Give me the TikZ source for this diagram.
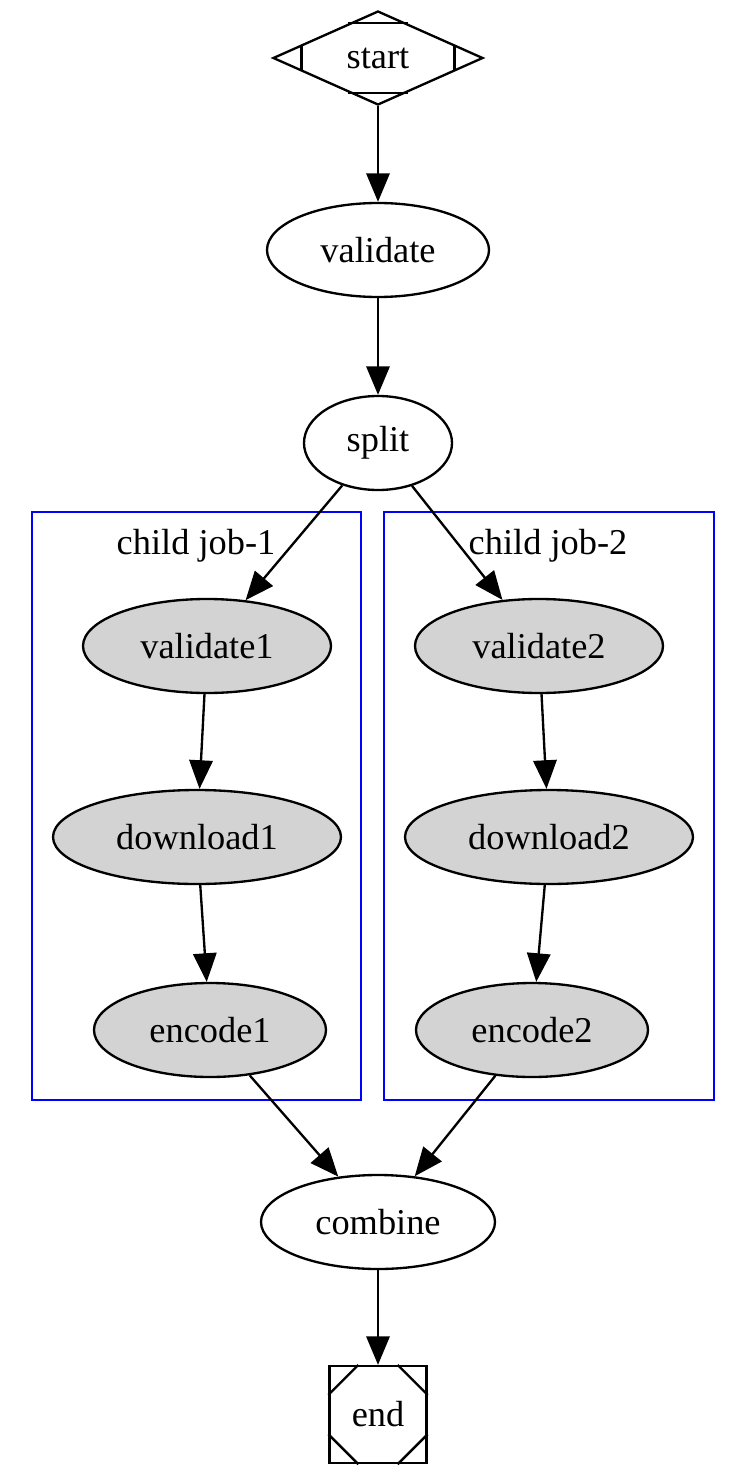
\documentclass[tikz,border=0pt]{standalone}
\usepackage{fontspec}
\setmainfont{Liberation Serif}
\usetikzlibrary{shapes.geometric,arrows.meta,calc}
\definecolor{jobgray}{HTML}{D3D3D3}
\begin{document}
\begin{tikzpicture}[x=0.385pt,y=-0.385pt,
  every node/.style={font=\fontsize{14}{16}\selectfont},
  base/.style={draw=black, line width=0.9pt, inner sep=0pt},
  ell/.style 2 args={base, ellipse, minimum width=#1*0.385pt, minimum height=#2*0.385pt},
  mainnode/.style={ell={#1}{94}, fill=white},
  jobnode/.style={ell={#1}{94}, fill=jobgray},
  arr/.style={line width=0.9pt, -{Triangle[length=11pt,width=9pt]}},
  cluster/.style={draw=blue, line width=0.9pt, inner sep=0pt},
  marker/.style={draw=black, line width=0.9pt},
]
\useasboundingbox (0,0) rectangle (746,1474);

% clusters
\node[cluster, minimum width=329*0.385pt, minimum height=588*0.385pt] (c1) at (196.5,806) {};
\node[cluster, minimum width=330*0.385pt, minimum height=588*0.385pt] (c2) at (549,806) {};
\node (c1lab) at (196,546) {child job-1};
\node (c2lab) at (548,546) {child job-2};

% start (Mdiamond)
\node[base, diamond, minimum width=210*0.385pt, minimum height=94*0.385pt] (start) at (378,58) {start};
\draw[marker] ($(start.north)!0.28!(start.west)$) -- ($(start.north)!0.28!(start.east)$);
\draw[marker] ($(start.south)!0.28!(start.west)$) -- ($(start.south)!0.28!(start.east)$);
\draw[marker] ($(start.west)!0.28!(start.north)$) -- ($(start.west)!0.28!(start.south)$);
\draw[marker] ($(start.east)!0.28!(start.north)$) -- ($(start.east)!0.28!(start.south)$);

\node[mainnode=222] (validate) at (378,250) {validate};
\node[mainnode=148] (split) at (378,443) {split};

\node[jobnode=248] (v1) at (207,646) {validate1};
\node[jobnode=288] (d1) at (197,837) {download1};
\node[jobnode=232] (e1) at (210,1030) {encode1};

\node[jobnode=248] (v2) at (539,646) {validate2};
\node[jobnode=288] (d2) at (549,837) {download2};
\node[jobnode=232] (e2) at (532,1030) {encode2};

\node[mainnode=234] (combine) at (378,1222) {combine};

% end (Msquare)
\node[base, minimum size=97*0.385pt] (end) at (378,1414.5) {end};
\draw[marker] ($(end.north west)+(30,0)$) -- ($(end.north west)+(0,30)$);
\draw[marker] ($(end.north east)+(-30,0)$) -- ($(end.north east)+(0,30)$);
\draw[marker] ($(end.south west)+(30,0)$) -- ($(end.south west)+(0,-30)$);
\draw[marker] ($(end.south east)+(-30,0)$) -- ($(end.south east)+(0,-30)$);

% edges
\draw[arr] (start) -- (validate);
\draw[arr] (validate) -- (split);
\draw[arr] (split) -- (v1);
\draw[arr] (split) -- (v2);
\draw[arr] (v1) -- (d1);
\draw[arr] (d1) -- (e1);
\draw[arr] (v2) -- (d2);
\draw[arr] (d2) -- (e2);
\draw[arr] (e1) -- (combine);
\draw[arr] (e2) -- (combine);
\draw[arr] (combine) -- (end);
\end{tikzpicture}
\end{document}
